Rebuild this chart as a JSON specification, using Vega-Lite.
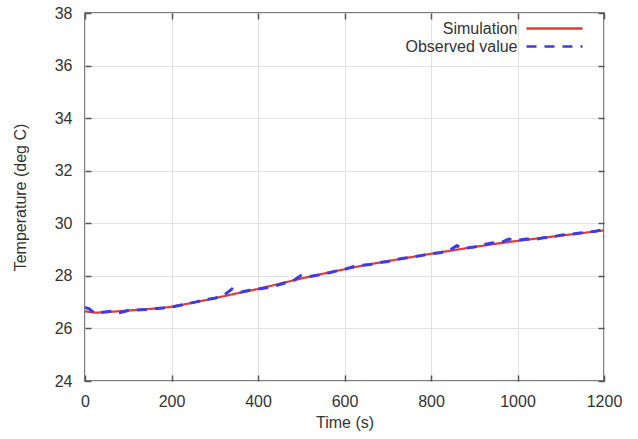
{
  "$schema": "https://vega.github.io/schema/vega-lite/v6.json",
  "width": 519,
  "height": 368,
  "autosize": "none",
  "padding": {"left": 85, "top": 13, "right": 34, "bottom": 58},
  "background": "white",
  "config": {
    "font": "Liberation Sans",
    "view": {"stroke": "#555", "strokeWidth": 1.5},
    "axis": {
      "labelFont": "Liberation Sans",
      "labelFontSize": 16,
      "labelColor": "#333",
      "titleFont": "Liberation Sans",
      "titleFontSize": 16,
      "titleFontWeight": "normal",
      "titleColor": "#333",
      "domain": false,
      "tickColor": "#555",
      "tickWidth": 1.5,
      "tickSize": -6,
      "gridColor": "#e2e2e2",
      "gridWidth": 1
    },
    "legend": {
      "title": null,
      "orient": "none",
      "legendX": 460,
      "legendY": 6,
      "symbolType": "M-3.5,0H3.5",
      "symbolSize": 256,
      "symbolStrokeWidth": 2.5,
      "labelAlign": "right",
      "labelOffset": -46.5,
      "labelFontSize": 16,
      "labelColor": "#333",
      "labelFont": "Liberation Sans",
      "rowPadding": 0
    }
  },
  "datasets": {
    "series": [
      {"time": 0, "temp": 26.65, "series": "Simulation"},
      {"time": 25, "temp": 26.6, "series": "Simulation"},
      {"time": 50, "temp": 26.62, "series": "Simulation"},
      {"time": 100, "temp": 26.68, "series": "Simulation"},
      {"time": 150, "temp": 26.74, "series": "Simulation"},
      {"time": 200, "temp": 26.82, "series": "Simulation"},
      {"time": 250, "temp": 26.98, "series": "Simulation"},
      {"time": 300, "temp": 27.15, "series": "Simulation"},
      {"time": 350, "temp": 27.33, "series": "Simulation"},
      {"time": 400, "temp": 27.5, "series": "Simulation"},
      {"time": 450, "temp": 27.7, "series": "Simulation"},
      {"time": 500, "temp": 27.9, "series": "Simulation"},
      {"time": 550, "temp": 28.08, "series": "Simulation"},
      {"time": 600, "temp": 28.25, "series": "Simulation"},
      {"time": 650, "temp": 28.42, "series": "Simulation"},
      {"time": 700, "temp": 28.56, "series": "Simulation"},
      {"time": 750, "temp": 28.7, "series": "Simulation"},
      {"time": 800, "temp": 28.84, "series": "Simulation"},
      {"time": 850, "temp": 28.97, "series": "Simulation"},
      {"time": 900, "temp": 29.1, "series": "Simulation"},
      {"time": 950, "temp": 29.22, "series": "Simulation"},
      {"time": 1000, "temp": 29.33, "series": "Simulation"},
      {"time": 1050, "temp": 29.43, "series": "Simulation"},
      {"time": 1100, "temp": 29.53, "series": "Simulation"},
      {"time": 1150, "temp": 29.63, "series": "Simulation"},
      {"time": 1200, "temp": 29.73, "series": "Simulation"},
      {"time": 0, "temp": 26.8, "series": "Observed value"},
      {"time": 10, "temp": 26.75, "series": "Observed value"},
      {"time": 20, "temp": 26.6, "series": "Observed value"},
      {"time": 40, "temp": 26.62, "series": "Observed value"},
      {"time": 60, "temp": 26.65, "series": "Observed value"},
      {"time": 80, "temp": 26.6, "series": "Observed value"},
      {"time": 100, "temp": 26.68, "series": "Observed value"},
      {"time": 120, "temp": 26.7, "series": "Observed value"},
      {"time": 140, "temp": 26.72, "series": "Observed value"},
      {"time": 160, "temp": 26.75, "series": "Observed value"},
      {"time": 180, "temp": 26.78, "series": "Observed value"},
      {"time": 200, "temp": 26.82, "series": "Observed value"},
      {"time": 220, "temp": 26.88, "series": "Observed value"},
      {"time": 240, "temp": 26.95, "series": "Observed value"},
      {"time": 260, "temp": 27.02, "series": "Observed value"},
      {"time": 280, "temp": 27.1, "series": "Observed value"},
      {"time": 300, "temp": 27.15, "series": "Observed value"},
      {"time": 320, "temp": 27.25, "series": "Observed value"},
      {"time": 340, "temp": 27.5, "series": "Observed value"},
      {"time": 350, "temp": 27.42, "series": "Observed value"},
      {"time": 360, "temp": 27.38, "series": "Observed value"},
      {"time": 380, "temp": 27.45, "series": "Observed value"},
      {"time": 400, "temp": 27.5, "series": "Observed value"},
      {"time": 420, "temp": 27.55, "series": "Observed value"},
      {"time": 440, "temp": 27.62, "series": "Observed value"},
      {"time": 460, "temp": 27.72, "series": "Observed value"},
      {"time": 480, "temp": 27.8, "series": "Observed value"},
      {"time": 500, "temp": 28.02, "series": "Observed value"},
      {"time": 520, "temp": 27.98, "series": "Observed value"},
      {"time": 540, "temp": 28.03, "series": "Observed value"},
      {"time": 560, "temp": 28.1, "series": "Observed value"},
      {"time": 580, "temp": 28.18, "series": "Observed value"},
      {"time": 600, "temp": 28.25, "series": "Observed value"},
      {"time": 620, "temp": 28.35, "series": "Observed value"},
      {"time": 640, "temp": 28.4, "series": "Observed value"},
      {"time": 660, "temp": 28.43, "series": "Observed value"},
      {"time": 680, "temp": 28.5, "series": "Observed value"},
      {"time": 700, "temp": 28.55, "series": "Observed value"},
      {"time": 720, "temp": 28.62, "series": "Observed value"},
      {"time": 740, "temp": 28.68, "series": "Observed value"},
      {"time": 760, "temp": 28.72, "series": "Observed value"},
      {"time": 780, "temp": 28.78, "series": "Observed value"},
      {"time": 800, "temp": 28.84, "series": "Observed value"},
      {"time": 820, "temp": 28.88, "series": "Observed value"},
      {"time": 840, "temp": 28.95, "series": "Observed value"},
      {"time": 860, "temp": 29.15, "series": "Observed value"},
      {"time": 870, "temp": 29.05, "series": "Observed value"},
      {"time": 880, "temp": 29.05, "series": "Observed value"},
      {"time": 900, "temp": 29.1, "series": "Observed value"},
      {"time": 920, "temp": 29.18, "series": "Observed value"},
      {"time": 940, "temp": 29.25, "series": "Observed value"},
      {"time": 960, "temp": 29.25, "series": "Observed value"},
      {"time": 980, "temp": 29.4, "series": "Observed value"},
      {"time": 1000, "temp": 29.35, "series": "Observed value"},
      {"time": 1020, "temp": 29.4, "series": "Observed value"},
      {"time": 1040, "temp": 29.38, "series": "Observed value"},
      {"time": 1060, "temp": 29.45, "series": "Observed value"},
      {"time": 1080, "temp": 29.48, "series": "Observed value"},
      {"time": 1100, "temp": 29.55, "series": "Observed value"},
      {"time": 1120, "temp": 29.58, "series": "Observed value"},
      {"time": 1140, "temp": 29.62, "series": "Observed value"},
      {"time": 1160, "temp": 29.65, "series": "Observed value"},
      {"time": 1180, "temp": 29.7, "series": "Observed value"},
      {"time": 1195, "temp": 29.75, "series": "Observed value"},
      {"time": 1200, "temp": 29.5, "series": "Observed value"}
    ]
  },
  "data": {"name": "series"},
  "layer": [
    {
      "transform": [{"filter": "datum.series === 'Simulation'"}],
      "mark": {"type": "line", "strokeWidth": 2.2},
      "encoding": {
        "x": {"field": "time", "type": "quantitative", "title": "Time (s)",
          "scale": {"domain": [0, 1200], "nice": false, "zero": false},
          "axis": {"values": [0, 200, 400, 600, 800, 1000, 1200], "format": "d", "grid": true, "labelPadding": 18, "titlePadding": 5, "labelFlush": false}},
        "y": {"field": "temp", "type": "quantitative", "title": "Temperature (deg C)",
          "scale": {"domain": [24, 38], "nice": false, "zero": false},
          "axis": {"values": [24, 26, 28, 30, 32, 34, 36, 38], "format": "d", "grid": true, "labelPadding": 19, "titlePadding": 26}},
        "color": {"field": "series", "type": "nominal",
          "scale": {"domain": ["Simulation", "Observed value"], "range": ["#e03a3a", "#3c3ce6"]}},
        "strokeDash": {"field": "series", "type": "nominal",
          "scale": {"domain": ["Simulation", "Observed value"], "range": [[1, 0], [10, 8]]}}
      }
    },
    {
      "transform": [{"filter": "datum.series === 'Observed value'"}],
      "mark": {"type": "line", "strokeWidth": 3},
      "encoding": {
        "x": {"field": "time", "type": "quantitative",
          "axis": {"orient": "top", "values": [0, 200, 400, 600, 800, 1000, 1200], "labels": false, "title": null, "grid": false}},
        "y": {"field": "temp", "type": "quantitative",
          "axis": {"orient": "right", "values": [24, 26, 28, 30, 32, 34, 36, 38], "labels": false, "title": null, "grid": false}},
        "color": {"field": "series", "type": "nominal"},
        "strokeDash": {"field": "series", "type": "nominal"}
      }
    }
  ],
  "resolve": {"axis": {"x": "independent", "y": "independent"}}
}
